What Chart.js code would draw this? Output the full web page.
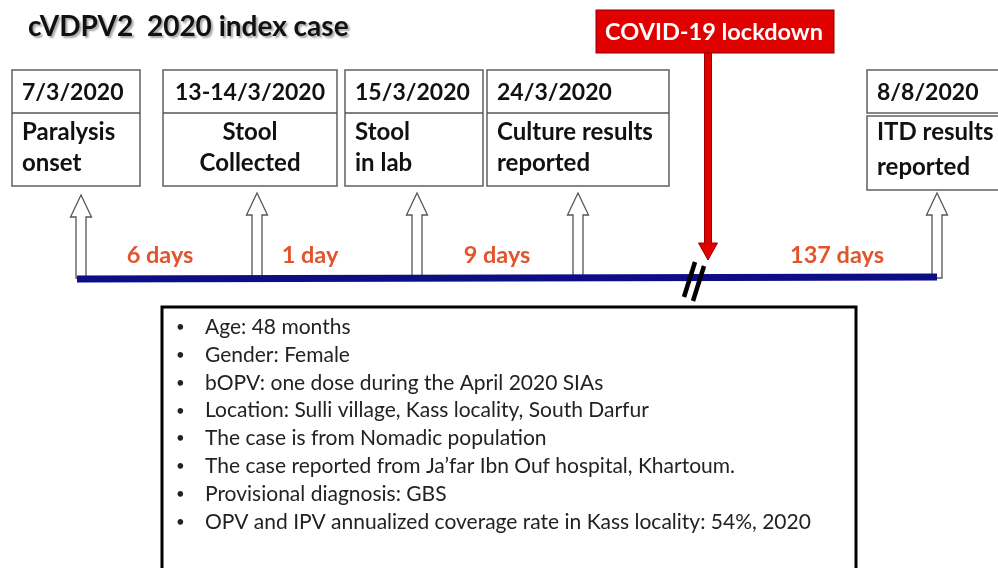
<!DOCTYPE html>
<html>
<head>
<meta charset="utf-8">
<script src="https://cdn.jsdelivr.net/npm/chart.js@4.4.1/dist/chart.umd.min.js"></script>
<style>
  html, body { margin: 0; padding: 0; background: #fff; }
  #wrap { width: 998px; height: 568px; }
</style>
</head>
<body>
<div id="wrap"><canvas id="timeline" width="998" height="568"></canvas></div>
<script>
// Timeline events
const eventDates = ['7/3/2020', '13-14/3/2020', '15/3/2020', '24/3/2020', '8/8/2020'];
const eventLabels = [
  ['Paralysis', 'onset'],
  ['Stool', 'Collected'],
  ['Stool', 'in lab'],
  ['Culture results', 'reported'],
  ['ITD results', 'reported']
];
// position of each event along the (schematic, not to scale) timeline
const eventX = [81, 257, 417, 578, 937];
const gapDays = [6, 1, 9, 137];

const lockdownLabel = 'COVID-19 lockdown';
const lockdownX = 708;

const titleText = 'cVDPV2  2020 index case';
const caseDetails = [
  'Age: 48 months',
  'Gender: Female',
  'bOPV: one dose during the April 2020 SIAs',
  'Location: Sulli village, Kass locality, South Darfur',
  'The case is from Nomadic population',
  'The case reported from Ja\u2019far Ibn Ouf hospital, Khartoum.',
  'Provisional diagnosis: GBS',
  'OPV and IPV annualized coverage rate in Kass locality: 54%, 2020'
];

// drawing layout
const LINE_Y = 278;
const FONT = 'Lato, "Open Sans", sans-serif';
const boxLayout = [
  { left: 12, right: 140, align: 'left' },
  { left: 163, right: 337, align: 'center' },
  { left: 345, right: 483, align: 'left' },
  { left: 487, right: 669, align: 'left' },
  { left: 867, right: 1012, align: 'left', split: true }
];
const gapLabelX = [160, 310, 497, 837];

function gapText(d) {
  return d + (d === 1 ? ' day' : ' days');
}

function upArrow(ctx, x, tipY, baseY) {
  ctx.beginPath();
  ctx.moveTo(x, tipY);
  ctx.lineTo(x + 10.5, tipY + 22);
  ctx.lineTo(x + 5, tipY + 22);
  ctx.lineTo(x + 5, baseY);
  ctx.lineTo(x - 5, baseY);
  ctx.lineTo(x - 5, tipY + 22);
  ctx.lineTo(x - 10.5, tipY + 22);
  ctx.closePath();
  ctx.fillStyle = '#fff';
  ctx.fill();
  ctx.strokeStyle = '#555';
  ctx.lineWidth = 1.3;
  ctx.stroke();
}

const diagramPlugin = {
  id: 'diagram',
  beforeDatasetsDraw(chart) {
    const ctx = chart.ctx;
    const ys = chart.scales.y;
    const meta = chart.getDatasetMeta(1);
    // hollow arrows pointing up to each event box
    meta.data.forEach((pt, i) => {
      const tip = i === 0 ? 195 : 193;
      upArrow(ctx, pt.x, ys.getPixelForValue(tip), pt.y);
    });
  },
  afterDatasetsDraw(chart) {
    const ctx = chart.ctx;
    const xs = chart.scales.x, ys = chart.scales.y;
    ctx.save();

    // title with soft shadow
    ctx.font = 'bold 28px ' + FONT;
    ctx.textAlign = 'left';
    ctx.textBaseline = 'alphabetic';
    ctx.shadowColor = 'rgba(0,0,0,0.35)';
    ctx.shadowOffsetX = 2;
    ctx.shadowOffsetY = 2;
    ctx.shadowBlur = 2;
    ctx.fillStyle = '#111';
    ctx.fillText(titleText, 28, 36);
    ctx.shadowColor = 'transparent';

    // event boxes
    ctx.strokeStyle = '#555';
    ctx.lineWidth = 1.4;
    eventDates.forEach((date, i) => {
      const b = boxLayout[i];
      const w = b.right - b.left;
      ctx.fillStyle = '#fff';
      if (b.split) {
        ctx.fillRect(b.left, 70, w, 43);
        ctx.strokeRect(b.left, 70, w, 43);
        ctx.fillRect(b.left, 116, w, 74);
        ctx.strokeRect(b.left, 116, w, 74);
      } else {
        ctx.fillRect(b.left, 70, w, 116);
        ctx.strokeRect(b.left, 70, w, 116);
        ctx.beginPath();
        ctx.moveTo(b.left, 113);
        ctx.lineTo(b.right, 113);
        ctx.stroke();
      }
      ctx.fillStyle = '#111';
      ctx.font = 'bold 23px ' + FONT;
      const tx = b.align === 'center' ? (b.left + b.right) / 2 : b.left + 10;
      ctx.textAlign = b.align;
      ctx.fillText(date, tx, 100);
      ctx.font = 'bold 24px ' + FONT;
      const off = b.split ? 4 : 0;
      ctx.fillText(eventLabels[i][0], tx, 140);
      ctx.fillText(eventLabels[i][1], tx, 171 + off);
    });

    // day gap labels
    ctx.font = 'bold 23.5px ' + FONT;
    ctx.textAlign = 'center';
    ctx.fillStyle = '#e2542c';
    gapDays.forEach((d, i) => {
      ctx.fillText(gapText(d), gapLabelX[i], 263);
    });

    // lockdown box and red arrow
    const lx = xs.getPixelForValue(lockdownX);
    ctx.fillStyle = '#e00000';
    ctx.strokeStyle = '#8a0000';
    ctx.lineWidth = 1;
    ctx.fillRect(596, 10, 238, 43);
    ctx.strokeRect(596, 10, 238, 43);
    ctx.fillStyle = '#fff';
    ctx.font = 'bold 23.5px ' + FONT;
    ctx.textBaseline = 'middle';
    ctx.fillText(lockdownLabel, 714, 32);
    ctx.textBaseline = 'alphabetic';

    ctx.beginPath();
    ctx.moveTo(lx - 3.5, 53);
    ctx.lineTo(lx + 3.5, 53);
    ctx.lineTo(lx + 3.5, 243);
    ctx.lineTo(lx + 9.5, 243);
    ctx.lineTo(lx, 260);
    ctx.lineTo(lx - 9.5, 243);
    ctx.lineTo(lx - 3.5, 243);
    ctx.closePath();
    ctx.fillStyle = '#e00000';
    ctx.fill();
    ctx.strokeStyle = '#9a0000';
    ctx.lineWidth = 1;
    ctx.stroke();

    // break mark on the timeline
    const ly = ys.getPixelForValue(LINE_Y);
    ctx.strokeStyle = '#000';
    ctx.lineWidth = 4.5;
    ctx.lineCap = 'butt';
    [[695, 684], [704, 693]].forEach((p, k) => {
      ctx.beginPath();
      ctx.moveTo(p[0], ly - 16 + k * 4);
      ctx.lineTo(p[1], ly + 19 + k * 4);
      ctx.stroke();
    });

    // case details box
    ctx.fillStyle = '#fff';
    ctx.fillRect(162, 307, 694, 280);
    ctx.strokeStyle = '#000';
    ctx.lineWidth = 3;
    ctx.strokeRect(162, 307, 694, 280);
    ctx.fillStyle = '#222';
    ctx.textAlign = 'left';
    ctx.textBaseline = 'middle';
    caseDetails.forEach((line, i) => {
      const y = 327 + i * 27.9;
      ctx.font = '15px ' + FONT;
      ctx.fillText('\u2022', 176, y);
      ctx.font = '21px ' + FONT;
      ctx.fillText(line, 205, y);
    });

    ctx.restore();
  }
};

const ctx = document.getElementById('timeline').getContext('2d');
const chart = new Chart(ctx, {
  type: 'scatter',
  data: {
    datasets: [
      {
        // the timeline itself
        type: 'line',
        data: [
          { x: eventX[0] - 4, y: LINE_Y + 1 },
          { x: eventX[eventX.length - 1], y: LINE_Y - 1 }
        ],
        borderColor: '#0d0d85',
        borderWidth: 7,
        pointRadius: 0,
        fill: false
      },
      {
        // event anchor points on the timeline
        data: eventX.map(x => ({ x: x, y: LINE_Y })),
        pointRadius: 0,
        showLine: false
      }
    ]
  },
  options: {
    responsive: false,
    animation: false,
    devicePixelRatio: 1,
    layout: { padding: 0 },
    plugins: {
      legend: { display: false },
      tooltip: { enabled: false }
    },
    scales: {
      x: { type: 'linear', min: 0, max: 998, display: false },
      y: { type: 'linear', min: 0, max: 568, reverse: true, display: false }
    }
  },
  plugins: [diagramPlugin]
});
</script>
</body>
</html>
